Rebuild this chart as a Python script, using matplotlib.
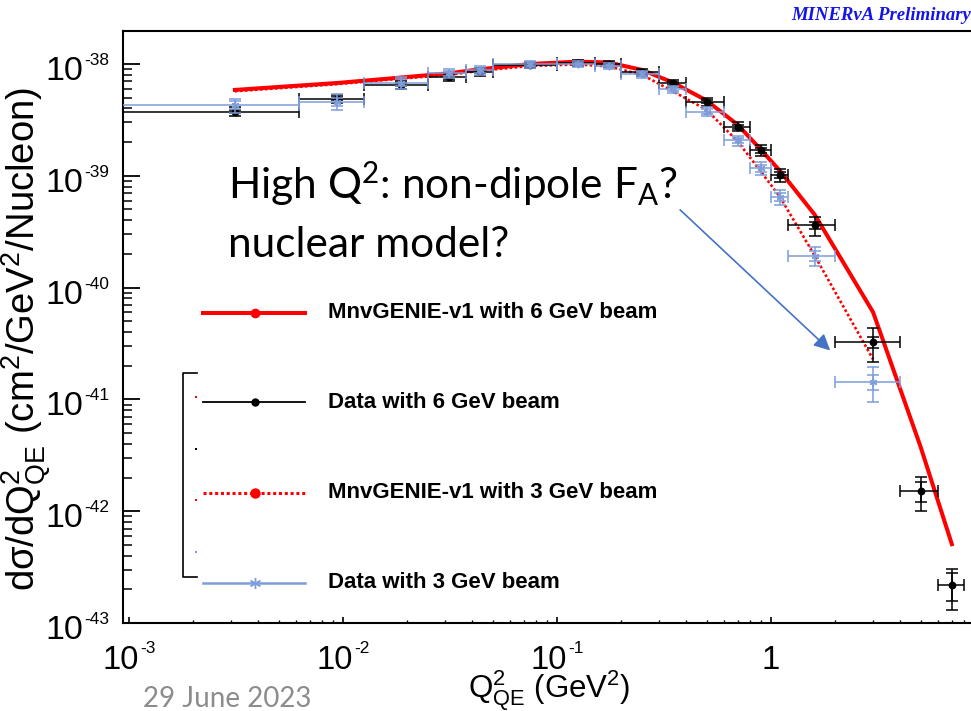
import numpy as np
import matplotlib
matplotlib.use("Agg")
import matplotlib.pyplot as plt
from matplotlib.lines import Line2D
from matplotlib.transforms import ScaledTranslation, blended_transform_factory
from matplotlib.ticker import LogLocator, NullFormatter

# ---------------- data ----------------
bin_low = [0.0, 0.00625, 0.0125, 0.025, 0.0375, 0.05, 0.1, 0.15, 0.2, 0.3,
           0.4, 0.6, 0.8, 1.0, 1.2, 2.0, 4.0, 6.0]
bin_high = [0.00625, 0.0125, 0.025, 0.0375, 0.05, 0.1, 0.15, 0.2, 0.3, 0.4,
            0.6, 0.8, 1.0, 1.2, 2.0, 4.0, 6.0, 8.0]

# 6 GeV beam data (cm^2/GeV^2/nucleon)
data6 = [3.75e-39, 4.9e-39, 6.5e-39, 7.6e-39, 8.5e-39, 9.8e-39, 1.03e-38, 1.0e-38,
         8.4e-39, 6.7e-39, 4.6e-39, 2.75e-39, 1.7e-39, 1.02e-39, 3.6e-40, 3.25e-41,
         1.52e-42, 2.18e-43]
data6_tot = [0.09, 0.08, 0.09, 0.08, 0.08, 0.06, 0.06, 0.06, 0.07, 0.08, 0.08,
             0.09, 0.11, 0.13, 0.20, 0.34, 0.34, 0.40]
data6_stat = [0.03, 0.03, 0.03, 0.03, 0.03, 0.02, 0.02, 0.02, 0.03, 0.03, 0.03,
              0.04, 0.05, 0.06, 0.08, 0.12, 0.20, 0.28]

# 3 GeV beam data (first 16 bins)
data3 = [4.28e-39, 4.6e-39, 6.8e-39, 8.26e-39, 8.8e-39, 1.0e-38, 1.0e-38, 9.6e-39,
         8.1e-39, 5.94e-39, 3.75e-39, 2.07e-39, 1.17e-39, 6.45e-40, 1.93e-40, 1.44e-41]
data3_tot = [0.14, 0.16, 0.13, 0.10, 0.09, 0.07, 0.06, 0.06, 0.07, 0.08, 0.09,
             0.10, 0.13, 0.155, 0.20, 0.34]
data3_stat = [0.08, 0.09, 0.07, 0.05, 0.05, 0.04, 0.03, 0.03, 0.04, 0.04, 0.05,
              0.05, 0.07, 0.08, 0.10, 0.15]

# MnvGENIE-v1 predictions
model6 = [5.86e-39, 6.76e-39, 7.57e-39, 8.26e-39, 8.97e-39, 1.0e-38, 1.05e-38, 1.03e-38,
          8.84e-39, 6.8e-39, 4.71e-39, 2.85e-39, 1.7e-39, 1.11e-39, 4.49e-40, 6.02e-41,
          3.77e-42, 5.07e-43]
model3 = [5.7e-39, 6.6e-39, 7.4e-39, 8.0e-39, 8.7e-39, 9.6e-39, 9.9e-39, 9.5e-39,
          8.0e-39, 5.66e-39, 3.89e-39, 2.02e-39, 1.08e-39, 6.5e-40, 1.93e-40, 2.28e-41]

x_major = [1e-3, 1e-2, 1e-1, 1.0]
x_exp = ["-3", "-2", "-1", None]
y_major = [1e-43, 1e-42, 1e-41, 1e-40, 1e-39, 1e-38]
y_exp = ["-43", "-42", "-41", "-40", "-39", "-38"]

legend_labels = ["MnvGENIE-v1 with 6 GeV beam", "Data with 6 GeV beam",
                 "MnvGENIE-v1 with 3 GeV beam", "Data with 3 GeV beam"]

# ---------------- style ----------------
RED = "#ff0000"
BLUE = "#7d9ddb"
BLACK = "#000000"
ARROW = "#4472c4"
W, H = 971, 711
plt.rcParams["font.family"] = ["Liberation Sans", "DejaVu Sans"]

fig = plt.figure(figsize=(W / 100, H / 100), dpi=100)


def fx(px):
    return px / W


def fy(py):
    return 1 - py / H


ax_left, ax_right, ax_top, ax_bot = 123, 985, 31, 623
ax = fig.add_axes([fx(ax_left), fy(ax_bot), (ax_right - ax_left) / W, (ax_bot - ax_top) / H])
ax.set_xscale("log")
ax.set_yscale("log")
ax.set_xlim(10 ** -3.028, 10.0)
ax.set_ylim(1e-43, 10 ** -37.705)
for s in ax.spines.values():
    s.set_linewidth(1.5)
ax.tick_params(axis="y", which="major", direction="in", length=12, width=1.3, labelleft=False)
ax.tick_params(axis="y", which="minor", direction="in", length=6.5, width=1.1)
ax.tick_params(axis="x", which="major", direction="in", length=4.5, width=1.2, labelbottom=False)
ax.tick_params(axis="x", which="minor", direction="in", length=2.3, width=1.0)
ax.xaxis.set_minor_locator(LogLocator(base=10, subs=np.arange(2, 10), numticks=20))
ax.yaxis.set_minor_locator(LogLocator(base=10, subs=np.arange(2, 10), numticks=20))
ax.xaxis.set_major_locator(LogLocator(base=10, numticks=20))
ax.yaxis.set_major_locator(LogLocator(base=10, numticks=20))
ax.xaxis.set_minor_formatter(NullFormatter())
ax.yaxis.set_minor_formatter(NullFormatter())

lo = np.array(bin_low)
hi = np.array(bin_high)
xc = (lo + hi) / 2

# models
ax.plot(xc, model6, color=RED, lw=2.9, solid_joinstyle="miter", zorder=3)
n3 = len(model3)
ax.plot(xc[:n3], model3, color=RED, lw=1.9, linestyle=(0, (1, 0.9)), zorder=3)


def draw_data(x, y, tot, stat, l, h, color, marker, ms, z):
    x = np.asarray(x); y = np.asarray(y); tot = np.asarray(tot); stat = np.asarray(stat)
    xerr = [x - l, h - x]
    yerr = [y * tot, y * tot]
    ax.errorbar(x, y, xerr=xerr, yerr=yerr, fmt="none", ecolor=color, elinewidth=1.1,
                capsize=4.3, capthick=1.1, zorder=z)
    ax.errorbar(x, y, yerr=[y * stat, y * stat], fmt="none", ecolor=color, elinewidth=1.1,
                capsize=4.3, capthick=1.1, zorder=z)
    ax.plot(x, y, linestyle="none", marker=marker, color=color, ms=ms, mew=1.0, zorder=z + 0.1)


draw_data(xc, data6, data6_tot, data6_stat, lo, hi, BLACK, "o", 4.6, 4)
n3d = len(data3)
draw_data(xc[:n3d], data3, data3_tot, data3_stat, lo[:n3d], hi[:n3d], BLUE, (6, 2, 0), 5.5, 5)

# ---------------- tick labels (ROOT style) ----------------
yt = blended_transform_factory(ax.transAxes, ax.transData)
for v, e in zip(y_major, y_exp):
    ax.text(0, v, "10", transform=yt + ScaledTranslation(-40 / 100, -16 / 100, fig.dpi_scale_trans),
            ha="right", va="baseline", fontsize=24.5, clip_on=False)
    ax.text(0, v, e, transform=yt + ScaledTranslation(-39 / 100, -1 / 100, fig.dpi_scale_trans),
            ha="left", va="baseline", fontsize=12.4, clip_on=False)

xt = blended_transform_factory(ax.transData, ax.transAxes)
for v, e in zip(x_major, x_exp):
    if e is None:
        ax.text(v, 0, "1", transform=xt + ScaledTranslation(0, -46 / 100, fig.dpi_scale_trans),
                ha="center", va="baseline", fontsize=23.5, clip_on=False)
    else:
        ax.text(v, 0, "10", transform=xt + ScaledTranslation(10 / 100, -46 / 100, fig.dpi_scale_trans),
                ha="right", va="baseline", fontsize=23.5, clip_on=False)
        ax.text(v, 0, e, transform=xt + ScaledTranslation(11 / 100, -30 / 100, fig.dpi_scale_trans),
                ha="left", va="baseline", fontsize=12.4, clip_on=False)

# axis titles
fig.text(fx(26), fy(339), r"dσ/d$\mathregular{Q^2_{QE}}$ (cm$\mathregular{^2}$/GeV$\mathregular{^2}$/Nucleon)",
         rotation=90, ha="center", va="center", fontsize=27.5)
fig.text(fx(549), fy(698), r"$\mathregular{Q^2_{QE}}$ (GeV$\mathregular{^2}$)",
         ha="center", va="baseline", fontsize=22.5)

# ---------------- legend (ROOT style, no frame) ----------------
leg_y = [313, 402, 493, 583]
leg_styles = [
    dict(color=RED, lw=2.9, ls="-", marker="o", ms=7, mew=0),
    dict(color=BLACK, lw=1.3, ls="-", marker="o", ms=6, mew=0),
    dict(color=RED, lw=2.2, ls=(0, (1, 0.9)), marker="o", ms=7.5, mew=0),
    dict(color=BLUE, lw=1.8, ls="-", marker=(6, 2, 0), ms=8, mew=1.0),
]
for yy, lab, st in zip(leg_y, legend_labels, leg_styles):
    fig.add_artist(Line2D([fx(203), fx(305)], [fy(yy), fy(yy)], transform=fig.transFigure,
                          color=st["color"], lw=st["lw"], ls=st["ls"]))
    fig.add_artist(Line2D([fx(255)], [fy(yy)], transform=fig.transFigure, color=st["color"],
                          marker=st["marker"], ms=st["ms"], mew=st["mew"], ls="none"))
    fig.text(fx(328), fy(yy), lab, ha="left", va="center", fontsize=16, fontweight="bold")

# bracket
fig.add_artist(Line2D([fx(197), fx(183), fx(183), fx(197)], [fy(373), fy(373), fy(577), fy(577)],
                      transform=fig.transFigure, color=BLACK, lw=1.2))
for yy, c in zip([397, 449, 500, 552], [RED, BLACK, RED, BLUE]):
    fig.add_artist(Line2D([fx(196)], [fy(yy)], transform=fig.transFigure, color=c,
                          marker="s", ms=1.5, mew=0, ls="none"))

# ---------------- annotation ----------------
fig.text(fx(228), fy(199), r"High $\mathregular{Q^2}$: non-dipole $\mathregular{F_A}$?",
         fontsize=30.5, family=["Lato", "DejaVu Sans"], ha="left", va="baseline")
fig.text(fx(228), fy(257), "nuclear model?",
         fontsize=30.5, family=["Lato", "DejaVu Sans"], ha="left", va="baseline")
ax.annotate("", xy=(1.89, 2.74e-41), xytext=(0.376, 4.96e-40), xycoords="data",
            arrowprops=dict(arrowstyle="-|>", color=ARROW, lw=1.2, mutation_scale=24,
                            shrinkA=0, shrinkB=0))

fig.text(fx(143), fy(707), "29 June 2023", fontsize=20, color="#8c8c8c",
         family=["Lato", "DejaVu Sans"], ha="left", va="baseline")
fig.text(fx(971), fy(20), "MINERνA Preliminary", fontsize=13.5, color="#1414e6",
         family=["Liberation Serif", "DejaVu Serif"], fontweight="bold", fontstyle="italic",
         ha="right", va="baseline")

fig.savefig("out.png", dpi=100)
